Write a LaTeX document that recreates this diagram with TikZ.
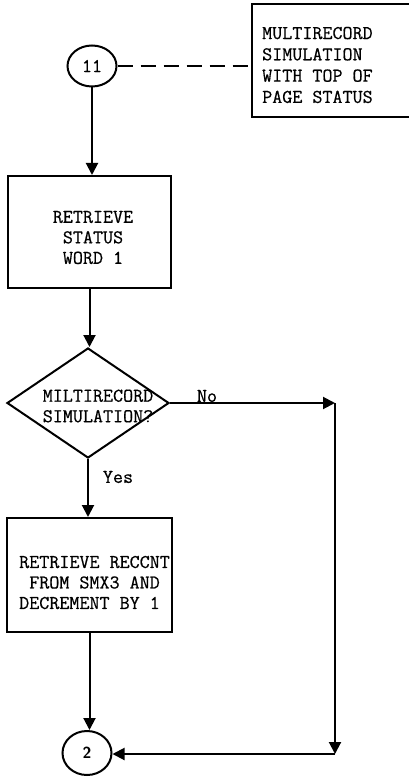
\documentclass[tikz,border=0pt]{standalone}
\usepackage{fontspec}
\newfontfamily\twfont{Latin Modern Mono}[FakeBold=0.6]
\usetikzlibrary{shapes.geometric,arrows.meta}
\tikzset{
  base/.style={line width=2pt},
  boxshape/.style={draw, line width=2pt, inner sep=0pt},
  txt/.style={font=\twfont\fontsize{19.5}{20.5}\selectfont, inner sep=0pt},
  arr/.style={line width=2pt, -{Triangle[length=12pt,width=12pt]}},
}
\begin{document}
\begin{tikzpicture}[x=1pt,y=1pt]
\useasboundingbox (0,0) rectangle (409,-778);
\clip (0,0) rectangle (409,-778);
% connector 11 and note
\node[boxshape, ellipse, minimum width=49pt, minimum height=41pt,
      font=\twfont\fontsize{19.5}{20.5}\selectfont] (c11) at (92,-66) {11};
\node[boxshape, minimum width=160pt, minimum height=113pt] (note) at (332,-60.5) {};
\node[txt, anchor=west, align=left, font=\twfont\fontsize{19.5}{21.3}\selectfont] (notet) at (262,-65)
  {MULTIRECORD\\SIMULATION\\WITH TOP OF\\PAGE STATUS};
% box 1
\node[boxshape, minimum width=163pt, minimum height=112pt] (box1) at (89.5,-232) {};
\node[txt, align=center] (box1t) at (93,-237.5) {RETRIEVE\\STATUS\\WORD 1};
% decision
\node[boxshape, diamond, minimum width=162pt, minimum height=110pt] (dia) at (88,-403) {};
\node[txt, align=center] (diat) at (98,-406) {MILTIRECORD\\SIMULATION?};
% box 3
\node[boxshape, minimum width=165pt, minimum height=114pt] (box3) at (89.5,-575) {};
\node[txt, anchor=west, align=left] (box3t) at (19,-582.5)
  {RETRIEVE RECCNT\\\hphantom{R}FROM SMX3 AND\\DECREMENT BY 1};
% connector 2
\node[boxshape, ellipse, minimum width=49pt, minimum height=44pt,
      font=\sffamily\bfseries\fontsize{16}{16}\selectfont] (c2) at (87,-753) {2};
% labels
\node[txt] (nolab) at (207,-396) {No};
\node[txt] (yeslab) at (118,-477) {Yes};
% bend points
\coordinate (k1) at (335,-403);
\coordinate (k2) at (335,-754);
% connectors
\draw[base, dash pattern=on 15pt off 8pt] (c11.east) -- (c11.east -| note.west);
\draw[arr] (c11.south) -- (c11.south |- box1.north);
\draw[arr] (box1.south) -- (box1.south |- dia.north);
\draw[arr] (dia.south) -- (dia.south |- box3.north);
\draw[arr] (box3.south) -- (box3.south |- c2.north);
\draw[arr] (dia.east) -- (k1);
\draw[arr] (k1) -- (k2);
\draw[arr] (k2) -- (k2 -| c2.east);
\end{tikzpicture}
\end{document}
